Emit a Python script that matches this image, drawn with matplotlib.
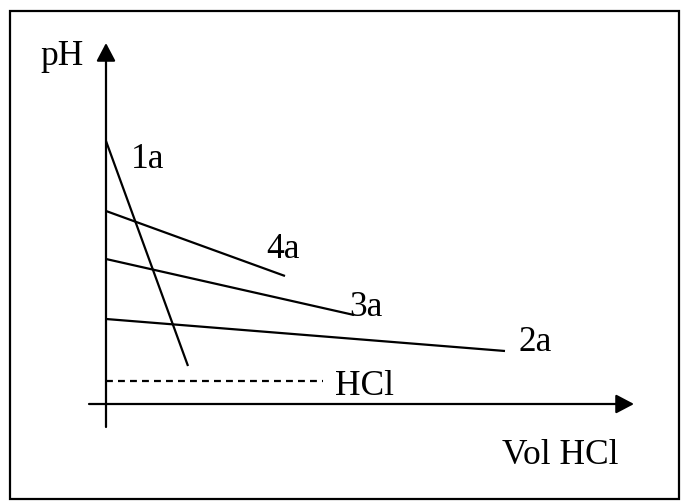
import matplotlib.pyplot as plt
from matplotlib.patches import Rectangle

# schematic titration curves: (vol, pH) start and end of each line
curve_names = ['1a', '4a', '3a', '2a']
curve_vol = [[0, 8.2], [0, 17.9], [0, 24.8], [0, 39.9]]
curve_ph = [[13.15, 1.9], [9.65, 6.4], [7.25, 4.45], [4.25, 2.65]]

# label positions (left, baseline) for each curve
label_vol = [2.5, 16.0, 24.3, 41.2]
label_ph = [11.8, 7.3, 4.4, 2.65]

# dashed HCl reference line
hcl_vol = [0, 21.7]
hcl_ph = [1.15, 1.15]

fig = plt.figure(figsize=(6.81, 5.01), dpi=100)
ax = fig.add_axes([0, 0, 1, 1])
ax.set_xlim(-10.6, 57.5)
ax.set_ylim(-4.85, 20.2)
ax.axis('off')

font = dict(family='Liberation Serif', size=25.5, color='black')

# outer frame
fig.patches.append(Rectangle((9.5 / 681, 2 / 501), 669.5 / 681, 488.5 / 501,
                             transform=fig.transFigure, fill=False,
                             edgecolor='black', linewidth=1.6))

# axes with arrows
arrow = dict(arrowstyle='-|>,head_length=1.1,head_width=0.58', mutation_scale=10,
             color='black', lw=1.6, shrinkA=0, shrinkB=0)
ax.annotate('', xy=(52.8, 0), xytext=(-1.7, 0), arrowprops=arrow)
ax.annotate('', xy=(0, 18.05), xytext=(0, -1.15), arrowprops=arrow)

for vol, ph in zip(curve_vol, curve_ph):
    ax.plot(vol, ph, color='black', lw=1.6, solid_capstyle='butt')

for name, x, y in zip(curve_names, label_vol, label_ph):
    ax.text(x, y, name, ha='left', va='baseline', **font)

ax.plot(hcl_vol, hcl_ph, color='black', lw=1.6, linestyle=(0, (3.1, 2.3)))
ax.text(22.9, 0.45, 'HCl', ha='left', va='baseline', **font)

ax.text(-6.6, 16.95, 'pH', ha='left', va='baseline', **font)
ax.text(39.6, -3.0, 'Vol HCl', ha='left', va='baseline', **font)

fig.savefig('out.png', dpi=100)
